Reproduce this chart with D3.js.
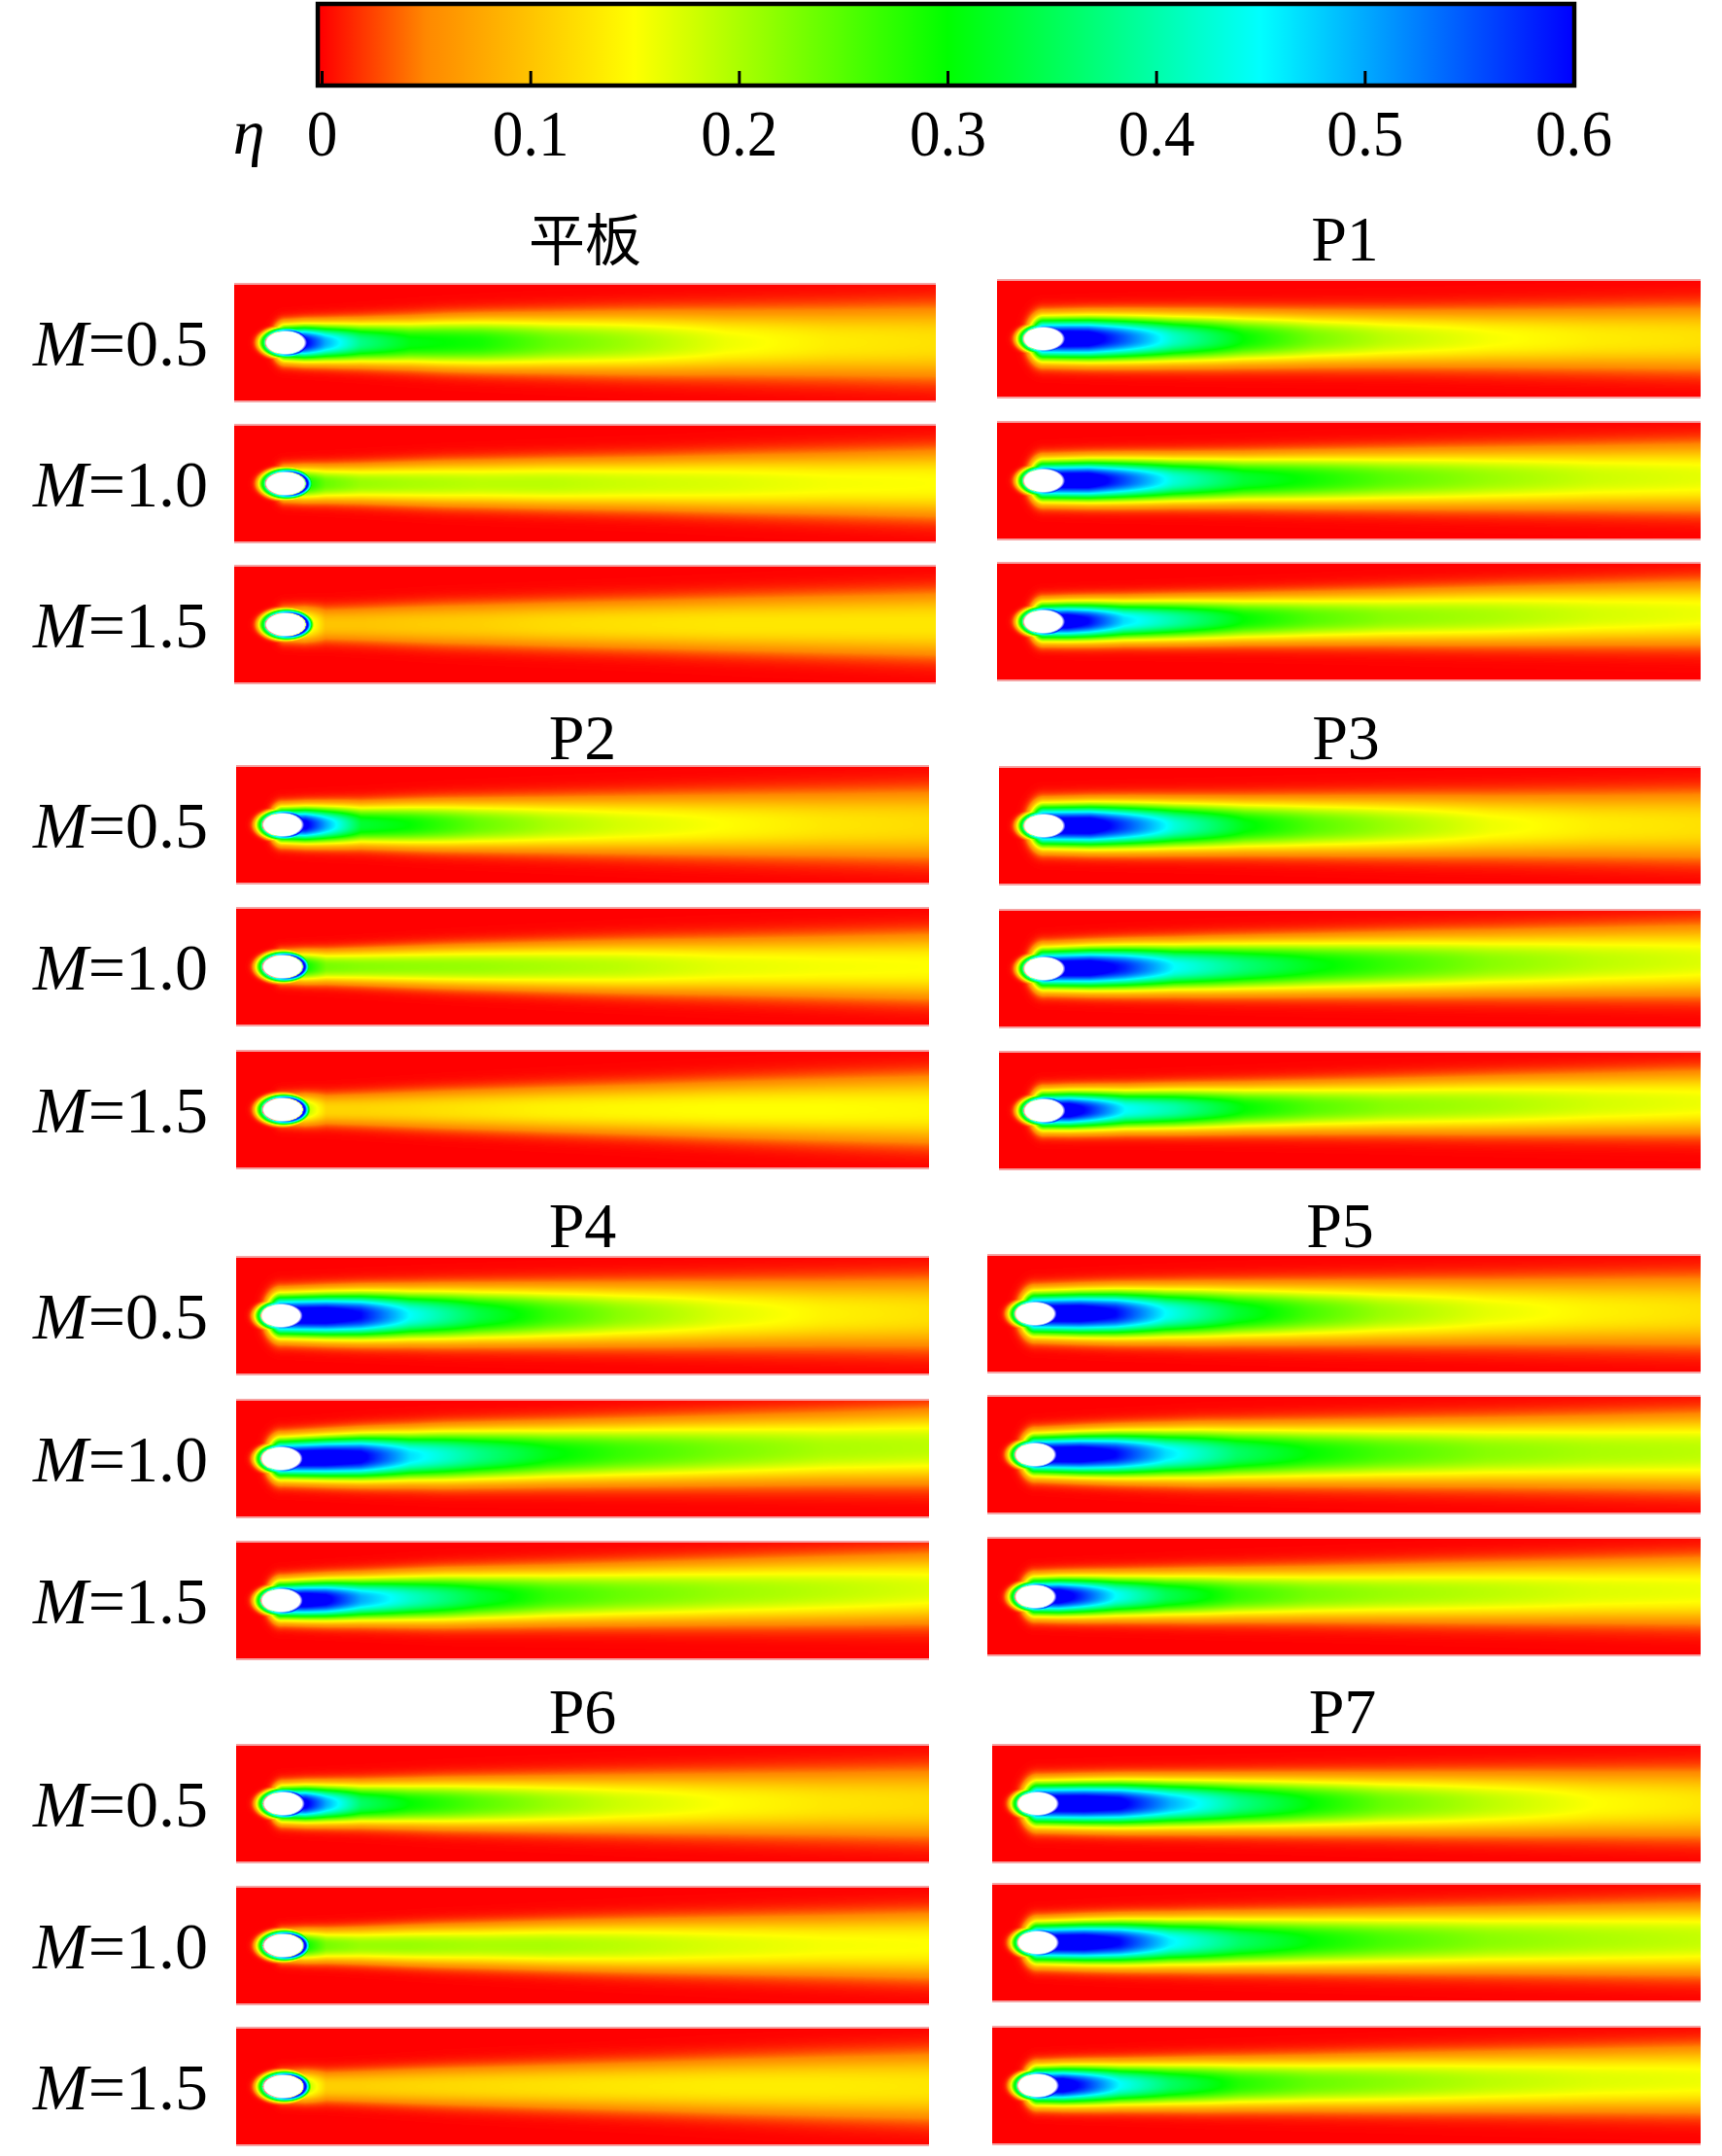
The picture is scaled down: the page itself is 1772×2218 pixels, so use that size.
<!DOCTYPE html>
<html>
<head>
<meta charset="utf-8">
<script src="https://cdn.jsdelivr.net/npm/d3@7"></script>
<style>
body { margin: 0; background: #fff; }
</style>
</head>
<body>
<script>
// stations along the plate (fraction of panel length) where the centreline eta was read
const xStations = [0.07, 0.1, 0.13, 0.18, 0.25, 0.35, 0.45, 0.55, 0.7, 0.85, 1.0];
// stations where the half width of the trace (fraction of panel height) was read
const wStations = [0.07, 0.3, 0.6, 1.0];

const cases = ["平板", "P1", "P2", "P3", "P4", "P5", "P6", "P7"];
const blowing = ["0.5", "1.0", "1.5"];
const tickValues = [0, 0.1, 0.2, 0.3, 0.4, 0.5, 0.6];

// centreline eta, one row per M
const eta_flat = [
  [0.6, 0.62, 0.5, 0.38, 0.31, 0.29, 0.24, 0.21, 0.16, 0.135, 0.125],
  [0.3, 0.3, 0.24, 0.21, 0.2, 0.19, 0.19, 0.18, 0.17, 0.155, 0.15],
  [0.2, 0.2, 0.1, 0.1, 0.105, 0.11, 0.12, 0.125, 0.13, 0.13, 0.13]];
const eta_P1 = [
  [0.65, 0.65, 0.64, 0.55, 0.42, 0.3, 0.23, 0.19, 0.155, 0.135, 0.125],
  [0.65, 0.65, 0.65, 0.56, 0.43, 0.33, 0.29, 0.25, 0.21, 0.18, 0.165],
  [0.65, 0.65, 0.6, 0.47, 0.4, 0.3, 0.25, 0.22, 0.2, 0.175, 0.16]];
const eta_P2 = [
  [0.62, 0.62, 0.5, 0.33, 0.3, 0.24, 0.2, 0.175, 0.15, 0.13, 0.12],
  [0.3, 0.3, 0.23, 0.22, 0.215, 0.21, 0.2, 0.19, 0.165, 0.155, 0.15],
  [0.2, 0.2, 0.115, 0.115, 0.12, 0.13, 0.14, 0.145, 0.15, 0.15, 0.145]];
const eta_P3 = [
  [0.65, 0.65, 0.65, 0.56, 0.43, 0.31, 0.25, 0.21, 0.16, 0.135, 0.125],
  [0.65, 0.65, 0.65, 0.58, 0.45, 0.37, 0.31, 0.27, 0.22, 0.19, 0.17],
  [0.65, 0.65, 0.58, 0.45, 0.4, 0.3, 0.25, 0.22, 0.2, 0.175, 0.16]];
const eta_P4 = [
  [0.65, 0.65, 0.65, 0.6, 0.45, 0.34, 0.27, 0.22, 0.17, 0.14, 0.125],
  [0.65, 0.65, 0.65, 0.62, 0.47, 0.38, 0.31, 0.27, 0.23, 0.2, 0.19],
  [0.65, 0.65, 0.62, 0.5, 0.42, 0.33, 0.27, 0.24, 0.21, 0.19, 0.17]];
const eta_P5 = [
  [0.65, 0.65, 0.65, 0.6, 0.45, 0.33, 0.26, 0.21, 0.165, 0.14, 0.125],
  [0.65, 0.65, 0.65, 0.6, 0.47, 0.36, 0.3, 0.26, 0.22, 0.2, 0.19],
  [0.65, 0.65, 0.58, 0.45, 0.35, 0.27, 0.23, 0.21, 0.19, 0.17, 0.16]];
const eta_P6 = [
  [0.62, 0.62, 0.5, 0.36, 0.3, 0.25, 0.21, 0.18, 0.15, 0.13, 0.12],
  [0.3, 0.3, 0.23, 0.21, 0.21, 0.2, 0.2, 0.19, 0.17, 0.155, 0.15],
  [0.2, 0.2, 0.11, 0.11, 0.115, 0.12, 0.125, 0.13, 0.135, 0.135, 0.13]];
const eta_P7 = [
  [0.65, 0.65, 0.65, 0.62, 0.5, 0.38, 0.3, 0.24, 0.19, 0.15, 0.13],
  [0.65, 0.65, 0.65, 0.6, 0.46, 0.36, 0.3, 0.26, 0.22, 0.2, 0.185],
  [0.65, 0.65, 0.58, 0.45, 0.36, 0.28, 0.24, 0.22, 0.19, 0.17, 0.16]];

// trace half width, one row per M
const width_flat = [[0.12, 0.17, 0.21, 0.26], [0.11, 0.15, 0.18, 0.235], [0.11, 0.15, 0.18, 0.23]];
const width_P1 = [[0.15, 0.17, 0.19, 0.23], [0.14, 0.16, 0.19, 0.23], [0.13, 0.15, 0.18, 0.22]];
const width_P2 = [[0.12, 0.16, 0.2, 0.25], [0.1, 0.14, 0.18, 0.23], [0.1, 0.14, 0.18, 0.24]];
const width_P3 = [[0.15, 0.17, 0.2, 0.24], [0.14, 0.17, 0.2, 0.24], [0.13, 0.15, 0.18, 0.22]];
const width_P4 = [[0.15, 0.18, 0.21, 0.25], [0.14, 0.18, 0.21, 0.25], [0.13, 0.17, 0.2, 0.24]];
const width_P5 = [[0.15, 0.18, 0.21, 0.25], [0.14, 0.18, 0.21, 0.25], [0.13, 0.16, 0.19, 0.23]];
const width_P6 = [[0.12, 0.16, 0.2, 0.25], [0.1, 0.14, 0.18, 0.23], [0.1, 0.14, 0.18, 0.24]];
const width_P7 = [[0.15, 0.17, 0.2, 0.24], [0.14, 0.17, 0.2, 0.24], [0.13, 0.16, 0.19, 0.23]];

// sideways drift of the trace at the end of the plate (fraction of height, minus = up)
const drift_flat = [0, 0, 0];
const drift_P1 = [0, -0.03, -0.07];
const drift_P2 = [0, 0, 0];
const drift_P3 = [0, -0.07, -0.07];
const drift_P4 = [-0.02, -0.1, -0.1];
const drift_P5 = [-0.02, -0.03, -0.05];
const drift_P6 = [0, 0, 0];
const drift_P7 = [0, -0.03, -0.05];

const caseData = {
  "平板": {eta: eta_flat, width: width_flat, drift: drift_flat, holeX: 0.073},
  "P1": {eta: eta_P1, width: width_P1, drift: drift_P1, holeX: 0.066},
  "P2": {eta: eta_P2, width: width_P2, drift: drift_P2, holeX: 0.067},
  "P3": {eta: eta_P3, width: width_P3, drift: drift_P3, holeX: 0.064},
  "P4": {eta: eta_P4, width: width_P4, drift: drift_P4, holeX: 0.065},
  "P5": {eta: eta_P5, width: width_P5, drift: drift_P5, holeX: 0.067},
  "P6": {eta: eta_P6, width: width_P6, drift: drift_P6, holeX: 0.068},
  "P7": {eta: eta_P7, width: width_P7, drift: drift_P7, holeX: 0.064}
};

// page layout
const width = 1772, height = 2218;
const panelH = 119;
const groups = [
  {titleY: 268, left: {x: [241, 963], rows: [293, 438, 583]}, right: {x: [1026, 1750], rows: [289, 435, 580]}},
  {titleY: 781, left: {x: [243, 956], rows: [789, 935, 1082]}, right: {x: [1028, 1750], rows: [790, 937, 1083]}},
  {titleY: 1283, left: {x: [243, 956], rows: [1294, 1441, 1587]}, right: {x: [1016, 1750], rows: [1292, 1437, 1583]}},
  {titleY: 1783, left: {x: [243, 956], rows: [1796, 1942, 2087]}, right: {x: [1021, 1750], rows: [1796, 1939, 2086]}}
];
const serif = "'Liberation Serif', 'Times New Roman', serif";

const svg = d3.select("body").append("svg")
  .attr("width", width)
  .attr("height", height)
  .style("display", "block");

const color = d3.scaleLinear()
  .domain([0, 0.05, 0.15, 0.3, 0.45, 0.6])
  .range(["#ff0000", "#ff8800", "#ffff00", "#00ff00", "#00ffff", "#0000ff"])
  .clamp(true);

// lookup table so each pixel does not re-run the interpolator
const lut = d3.range(0, 601).map(i => d3.rgb(color(i / 1000)));

// colour bar
const cbX = d3.scaleLinear().domain([0, 0.6]).range([331, 1619]);
const defs = svg.append("defs");
const grad = defs.append("linearGradient").attr("id", "cb")
  .attr("gradientUnits", "userSpaceOnUse")
  .attr("x1", cbX(0)).attr("x2", cbX(0.6)).attr("y1", 0).attr("y2", 0);
grad.selectAll("stop").data(color.domain()).enter().append("stop")
  .attr("offset", d => d / 0.6)
  .attr("stop-color", d => color(d));

svg.append("rect")
  .attr("x", 327).attr("y", 4).attr("width", 1293).attr("height", 84)
  .attr("fill", "url(#cb)")
  .attr("stroke", "#000").attr("stroke-width", 4.5);

const axis = d3.axisBottom(cbX)
  .tickValues(tickValues)
  .tickSizeInner(-15)
  .tickSizeOuter(0)
  .tickPadding(24)
  .tickFormat(d => d === 0 ? "0" : d3.format(".1f")(d));

const gAxis = svg.append("g").attr("transform", "translate(0,88)").call(axis);
gAxis.select(".domain").remove();
gAxis.selectAll(".tick line").attr("stroke-width", 3);
gAxis.attr("font-family", serif).attr("font-size", 68);
gAxis.selectAll(".tick text").attr("fill", "#000").attr("transform", "scale(0.93,1)");
gAxis.selectAll(".tick").filter(d => d === 0.6).select("line").remove();

svg.append("text")
  .attr("x", 256).attr("y", 158)
  .attr("text-anchor", "middle")
  .attr("font-family", serif).attr("font-style", "italic").attr("font-size", 66)
  .text("η");

// one contour panel rendered into a canvas and placed as an svg image
function drawPanel(name, m, x0, x1, top) {
  const d = caseData[name];
  const W = x1 - x0, H = panelH;
  const cScale = d3.scaleLinear().domain(xStations).range(d.eta[m]).clamp(true);
  const wScale = d3.scaleLinear().domain(wStations).range(d.width[m]).clamp(true);
  const drift = d.drift[m];
  const hx = d.holeX * W, hy = H / 2, rx = 21, ry = 12;

  const canvas = document.createElement("canvas");
  canvas.width = W; canvas.height = H;
  const ctx = canvas.getContext("2d");
  const img = ctx.createImageData(W, H);

  for (let i = 0; i < W; i++) {
    const px = i + 0.5, xf = px / W;
    const xs = Math.max(xf, d.holeX);
    const c = cScale(xs);
    const w = wScale(xs) * H;
    const yc = hy + drift * H * Math.max(0, (xf - d.holeX) / (1 - d.holeX));
    for (let j = 0; j < H; j++) {
      const py = j + 0.5;
      let dist;
      if (xf >= d.holeX) {
        dist = Math.abs(py - yc) / w;
      } else {
        const dx = (hx - px) * 1.5, dy = py - hy;
        dist = Math.sqrt(dx * dx + dy * dy) / w;
      }
      let e = c * Math.pow(2, -Math.pow(dist, 2.5));

      const ex = (px - hx) / rx, ey = (py - hy) / ry;
      const r = Math.sqrt(ex * ex + ey * ey);
      if (r > 1) {
        const peak = 0.5 + 0.15 * (ex / r);
        const rim = peak * Math.exp(-Math.pow((r - 1) / 0.33, 2));
        e = Math.max(e, rim);
      }
      const col = lut[Math.round(Math.min(0.6, Math.max(0, e)) * 1000)];
      let rr = col.r, gg = col.g, bb = col.b;
      // white cooling hole with a soft edge
      const t = Math.min(1, Math.max(0, (1.06 - r) / 0.14));
      rr = rr + (255 - rr) * t; gg = gg + (255 - gg) * t; bb = bb + (255 - bb) * t;
      const k = (j * W + i) * 4;
      img.data[k] = rr; img.data[k + 1] = gg; img.data[k + 2] = bb; img.data[k + 3] = 255;
    }
  }
  ctx.putImageData(img, 0, 0);

  svg.append("image")
    .attr("x", x0).attr("y", top)
    .attr("width", W).attr("height", H)
    .attr("preserveAspectRatio", "none")
    .attr("href", canvas.toDataURL());

  // faint pink edge lines as in the exported figure
  [top - 1, top + H + 1].forEach(yy => {
    svg.append("line")
      .attr("x1", x0).attr("x2", x1).attr("y1", yy).attr("y2", yy)
      .attr("stroke", "#f5a3a3").attr("stroke-width", 2);
  });
}

groups.forEach((g, gi) => {
  const leftName = cases[gi * 2], rightName = cases[gi * 2 + 1];
  [[leftName, g.left], [rightName, g.right]].forEach(([name, col]) => {
    const isCJK = name === "平板";
    svg.append("text")
      .attr("x", (col.x[0] + col.x[1]) / 2 - (col === g.left ? 0 : 4))
      .attr("y", g.titleY)
      .attr("text-anchor", "middle")
      .attr("font-family", isCJK ? "'Noto Sans CJK SC', sans-serif" : serif)
      .attr("font-size", isCJK ? 58 : 66)
      .text(name);
    col.rows.forEach((top, m) => drawPanel(name, m, col.x[0], col.x[1], top));
  });

  g.left.rows.forEach((top, m) => {
    const t = svg.append("text")
      .attr("x", 214).attr("y", top + panelH / 2 + 23)
      .attr("text-anchor", "end")
      .attr("font-family", serif).attr("font-size", 68);
    t.append("tspan").attr("font-style", "italic").text("M");
    t.append("tspan").text("=" + blowing[m]);
  });
});
</script>
</body>
</html>
